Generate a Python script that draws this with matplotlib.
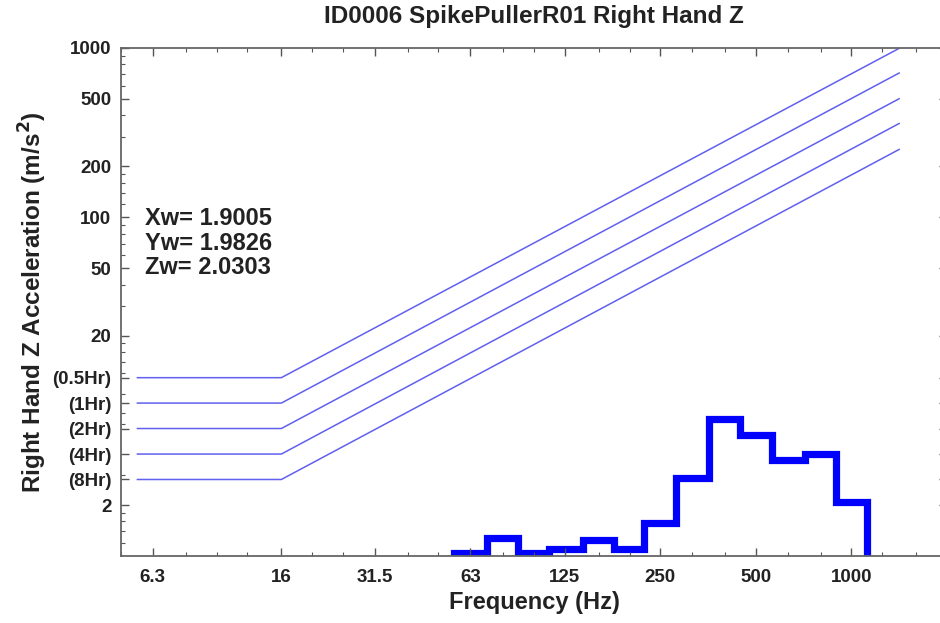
import numpy as np
import matplotlib
matplotlib.use("Agg")
import matplotlib.pyplot as plt
from matplotlib.ticker import FixedLocator, FixedFormatter, NullFormatter

plt.rcParams['font.family'] = ['Liberation Sans', 'DejaVu Sans']
plt.rcParams['font.weight'] = 'bold'

# Exposure-limit curves (horizontal to the knee, then rising)
limit_labels = ["(0.5Hr)", "(1Hr)", "(2Hr)", "(4Hr)", "(8Hr)"]
limit_levels = [11.3, 8.0, 5.66, 4.0, 2.83]
limit_end_values = [1000, 715, 504, 360, 253]
limit_start_freq = 5.6
limit_knee_freq = 16
limit_end_freq = 1420

# Measured 1/3-octave band spectrum
band_centers = [63, 80, 100, 125, 160, 200, 250, 315, 400, 500, 630, 800, 1000]
band_values = [1.04, 1.28, 1.04, 1.10, 1.24, 1.10, 1.57, 2.90, 6.45, 5.15, 3.70, 4.00, 2.09]

x_tick_values = [6.3, 16, 31.5, 63, 125, 250, 500, 1000]
x_tick_labels = ["6.3", "16", "31.5", "63", "125", "250", "500", "1000"]
x_minor_values = [5, 8, 10, 12.5, 20, 25, 40, 50, 80, 100, 160, 200, 315, 400,
                  630, 800, 1250, 1600]

y_tick_values = [2, 20, 50, 100, 200, 500, 1000]
y_tick_labels = ["2", "20", "50", "100", "200", "500", "1000"]

weighted = [("Xw", "1.9005"), ("Yw", "1.9826"), ("Zw", "2.0303")]

W, H = 940, 623
fig = plt.figure(figsize=(W / 100, H / 100), dpi=100)
ax = fig.add_axes([121 / W, 67 / H, 826 / W, 508 / H])
ax.set_xscale('log')
ax.set_yscale('log')
ax.set_xlim(5, 2000)
ax.set_ylim(1, 1000)

for lvl, endv in zip(limit_levels, limit_end_values):
    ax.plot([limit_start_freq, limit_knee_freq, limit_end_freq], [lvl, lvl, endv],
            color='#6060f0', lw=1.1, solid_capstyle='butt')

# band edges from 1/3-octave centres
centers = np.array(band_centers, dtype=float)
edges = np.concatenate([centers * 10 ** -0.05, [centers[-1] * 10 ** 0.05]])
ax.stairs(band_values, edges, baseline=0.3, fill=False, color='#0000ff', lw=5.2,
          joinstyle='miter')

# ticks
yt = y_tick_values + limit_levels
yl = y_tick_labels + limit_labels
ax.yaxis.set_major_locator(FixedLocator(yt))
ax.yaxis.set_major_formatter(FixedFormatter(yl))
ymin = []
for d in [1, 10, 100]:
    for s in [1.2, 1.4, 1.6, 1.8, 3, 4, 6, 7, 8, 9]:
        v = s * d
        if v not in yt:
            ymin.append(v)
ax.yaxis.set_minor_locator(FixedLocator(ymin))
ax.yaxis.set_minor_formatter(NullFormatter())

ax.xaxis.set_major_locator(FixedLocator(x_tick_values))
ax.xaxis.set_major_formatter(FixedFormatter(x_tick_labels))
ax.xaxis.set_minor_locator(FixedLocator(x_minor_values))
ax.xaxis.set_minor_formatter(NullFormatter())

ax.tick_params(which='both', direction='in', top=True, right=True,
               color='#555555', labelsize=13.5)
ax.tick_params(axis='x', pad=9)
ax.tick_params(axis='y', pad=7)
ax.tick_params(which='major', length=6, width=1)
ax.tick_params(which='minor', length=3, width=0.8)
for lab in ax.get_xticklabels() + ax.get_yticklabels():
    lab.set_fontweight('bold')
    lab.set_color('#222222')

for sp in ax.spines.values():
    sp.set_color('#666666')
    sp.set_linewidth(1.3)

ax.set_title("ID0006 SpikePullerR01 Right Hand Z", fontsize=17.5, fontweight='bold',
             pad=0, y=1 + (48 - 17) / 508, va='center', color='#222222')
ax.set_xlabel("Frequency (Hz)", fontsize=17, fontweight='bold', color='#222222',
              va='center')
ax.xaxis.set_label_coords(0.5, (556 - 603) / 508)
ax.set_ylabel("Right Hand Z Acceleration (m/s$^\\mathbf{2}$)", fontsize=17.5,
              fontweight='bold', color='#222222', va='center')
ax.yaxis.set_label_coords((33 - 121) / 826, 0.5)

for i, (name, val) in enumerate(weighted):
    fig.text(145 / W, 1 - (218 + 25 * i) / H, f"{name}= {val}", fontsize=17,
             fontweight='bold', color='#222222', va='center', ha='left')

fig.savefig("out.png", dpi=100)
